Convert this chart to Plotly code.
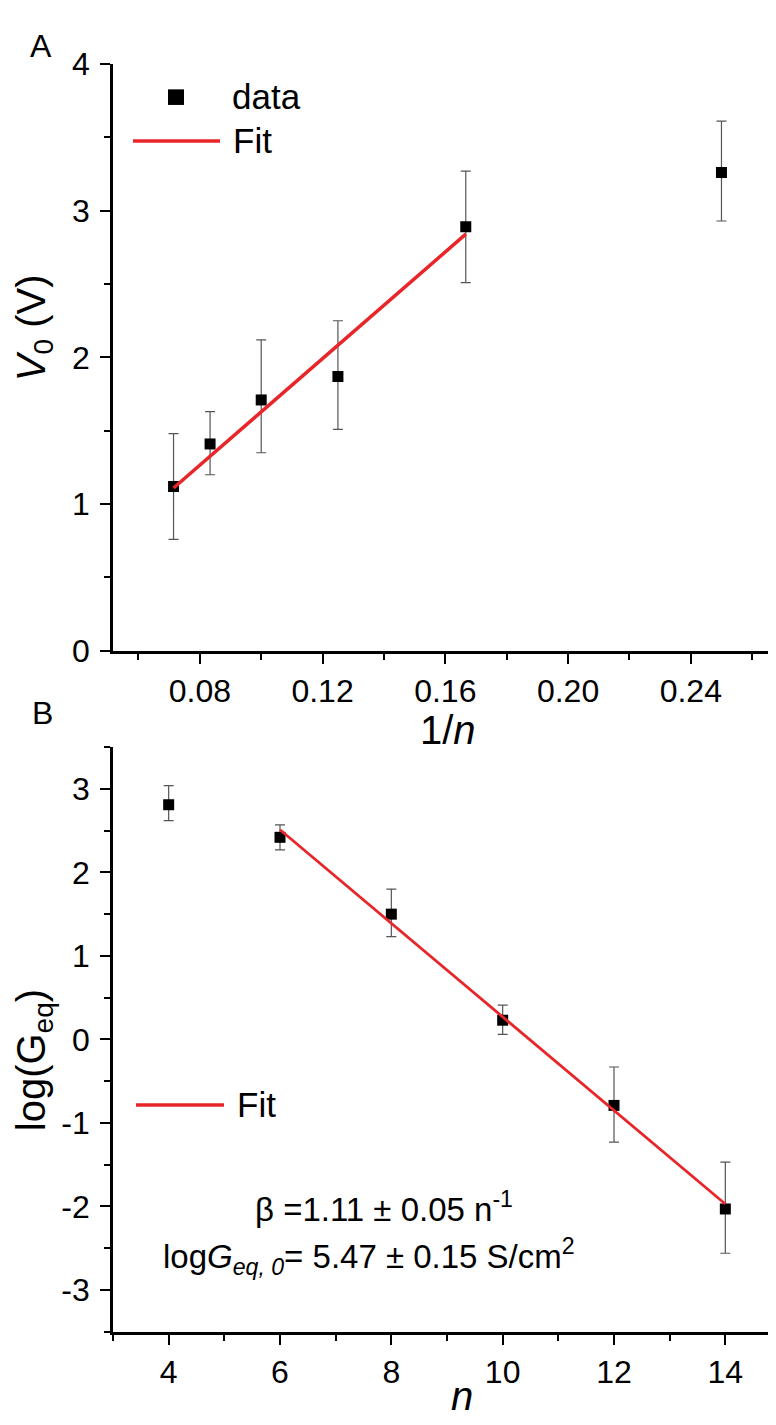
import plotly.graph_objects as go

# ---------------- data ----------------
# Panel A : V0 vs 1/n
n_a = [14, 12, 10, 8, 6, 4]
v0 = [1.12, 1.41, 1.71, 1.87, 2.89, 3.26]
v0_err_plus = [0.36, 0.22, 0.41, 0.38, 0.38, 0.35]
v0_err_minus = [0.36, 0.21, 0.36, 0.36, 0.38, 0.33]
fit_a_n = [14, 6]
fit_a_v0 = [1.11, 2.84]
xticks_a = [0.08, 0.12, 0.16, 0.20, 0.24]
xticktext_a = ["0.08", "0.12", "0.16", "0.20", "0.24"]
yticks_a = [0, 1, 2, 3, 4]

# Panel B : log(Geq) vs n
n_b = [4, 6, 8, 10, 12, 14]
log_geq = [2.81, 2.42, 1.50, 0.23, -0.79, -2.03]
geq_err_plus = [0.23, 0.15, 0.30, 0.18, 0.46, 0.56]
geq_err_minus = [0.19, 0.15, 0.27, 0.17, 0.44, 0.53]
fit_b_n = [6, 14]
fit_b_log = [2.51, -1.97]
xticks_b = [4, 6, 8, 10, 12, 14]
yticks_b = [-3, -2, -1, 0, 1, 2, 3]
yticktext_b = ["-3", "-2", "-1", "0", "1", "2", "3"]

# ---------------- layout helpers ----------------
W, H = 776, 1425
def px(x):
    return x / W
def py(y):
    return 1 - y / H

FONT = "Liberation Sans, Arial, sans-serif"
RED = "rgb(232,38,42)"
ERR = "#555555"

fig = go.Figure()

# Panel A
fig.add_trace(go.Scatter(
    x=[1 / n for n in n_a], y=v0, mode="markers",
    marker=dict(symbol="square", size=11, color="black"),
    error_y=dict(type="data", array=v0_err_plus, arrayminus=v0_err_minus,
                 color=ERR, thickness=1.2, width=5),
    xaxis="x", yaxis="y", showlegend=False))
fig.add_trace(go.Scatter(
    x=[1 / n for n in fit_a_n], y=fit_a_v0, mode="lines",
    line=dict(color=RED, width=3.5), xaxis="x", yaxis="y", showlegend=False))

# Panel B
fig.add_trace(go.Scatter(
    x=n_b, y=log_geq, mode="markers",
    marker=dict(symbol="square", size=11, color="black"),
    error_y=dict(type="data", array=geq_err_plus, arrayminus=geq_err_minus,
                 color=ERR, thickness=1.2, width=5),
    xaxis="x2", yaxis="y2", showlegend=False))
fig.add_trace(go.Scatter(
    x=fit_b_n, y=fit_b_log, mode="lines",
    line=dict(color=RED, width=2.8), xaxis="x2", yaxis="y2", showlegend=False))

axis_common = dict(
    showline=True, linecolor="black", linewidth=2.8, mirror=False,
    showgrid=False, zeroline=False, ticks="outside", ticklen=10,
    tickwidth=2.2, tickcolor="black",
    tickfont=dict(family=FONT, size=32, color="black"),
)
minor_common = dict(ticks="outside", ticklen=6, tickwidth=2.2, tickcolor="black")

xdom = [px(105), px(773)]

fig.update_layout(
    width=W, height=H,
    margin=dict(l=0, r=0, t=0, b=0),
    paper_bgcolor="white", plot_bgcolor="white",
    xaxis=dict(domain=xdom, range=[0.0517, 0.2694], anchor="y",
               tickvals=xticks_a, ticktext=xticktext_a,
               minor=dict(dtick=0.02, tick0=0, **minor_common),
               **axis_common),
    yaxis=dict(domain=[py(641), py(39)], range=[0, 4], anchor="x",
               tickvals=yticks_a, ticklabelstandoff=4,
               minor=dict(dtick=0.5, tick0=0, **minor_common),
               **axis_common),
    xaxis2=dict(domain=xdom, range=[3, 15], anchor="y2",
                tickvals=xticks_b,
                minor=dict(dtick=1, tick0=0, **minor_common),
                **axis_common),
    yaxis2=dict(domain=[py(1339.6), py(739.8)], range=[-3.5, 3.5], anchor="x2",
                tickvals=yticks_b, ticktext=yticktext_b, ticklabelstandoff=4,
                minor=dict(dtick=0.5, tick0=0, **minor_common),
                **axis_common),
)

ann = []
def text(x, y, s, size, xanchor="center", yanchor="middle", angle=0):
    ann.append(dict(x=px(x), y=py(y), xref="paper", yref="paper", text=s,
                    showarrow=False, xanchor=xanchor, yanchor=yanchor,
                    textangle=angle,
                    font=dict(family=FONT, size=size, color="black")))

# panel labels
text(33, 21, "A", 32)
text(34, 705, "B", 32)
# axis titles
text(26, 310, "<i>V</i><sub>0</sub> (V)", 40, angle=-90)
text(440, 722, "1/<i>n</i>", 40)
text(26, 1061, "log(G<sub>eq</sub>)", 40, angle=-90)
text(454, 1405, "<i>n</i>", 40)
# legends
text(222, 72, "data", 35, xanchor="left")
text(223, 117, "Fit", 35, xanchor="left")
text(227, 1106, "Fit", 35, xanchor="left")
# fit parameters
text(245, 1212, "β =1.11 ± 0.05 n<sup>-1</sup>", 33, xanchor="left")
text(153, 1262, "log<i>G</i><sub><i>eq, 0</i></sub>= 5.47 ± 0.15 S/cm<sup>2</sup>", 33, xanchor="left")

fig.update_layout(annotations=ann)

shapes = [
    dict(type="rect", xref="paper", yref="paper",
         x0=px(160), x1=px(176), y0=py(81), y1=py(65),
         fillcolor="black", line=dict(width=0)),
    dict(type="line", xref="paper", yref="paper",
         x0=px(125), x1=px(212), y0=py(118), y1=py(118),
         line=dict(color=RED, width=3.5)),
    dict(type="line", xref="paper", yref="paper",
         x0=px(128), x1=px(216), y0=py(1107), y1=py(1107),
         line=dict(color=RED, width=3.5)),
]
fig.update_layout(shapes=shapes)

fig.write_html("out.html")
